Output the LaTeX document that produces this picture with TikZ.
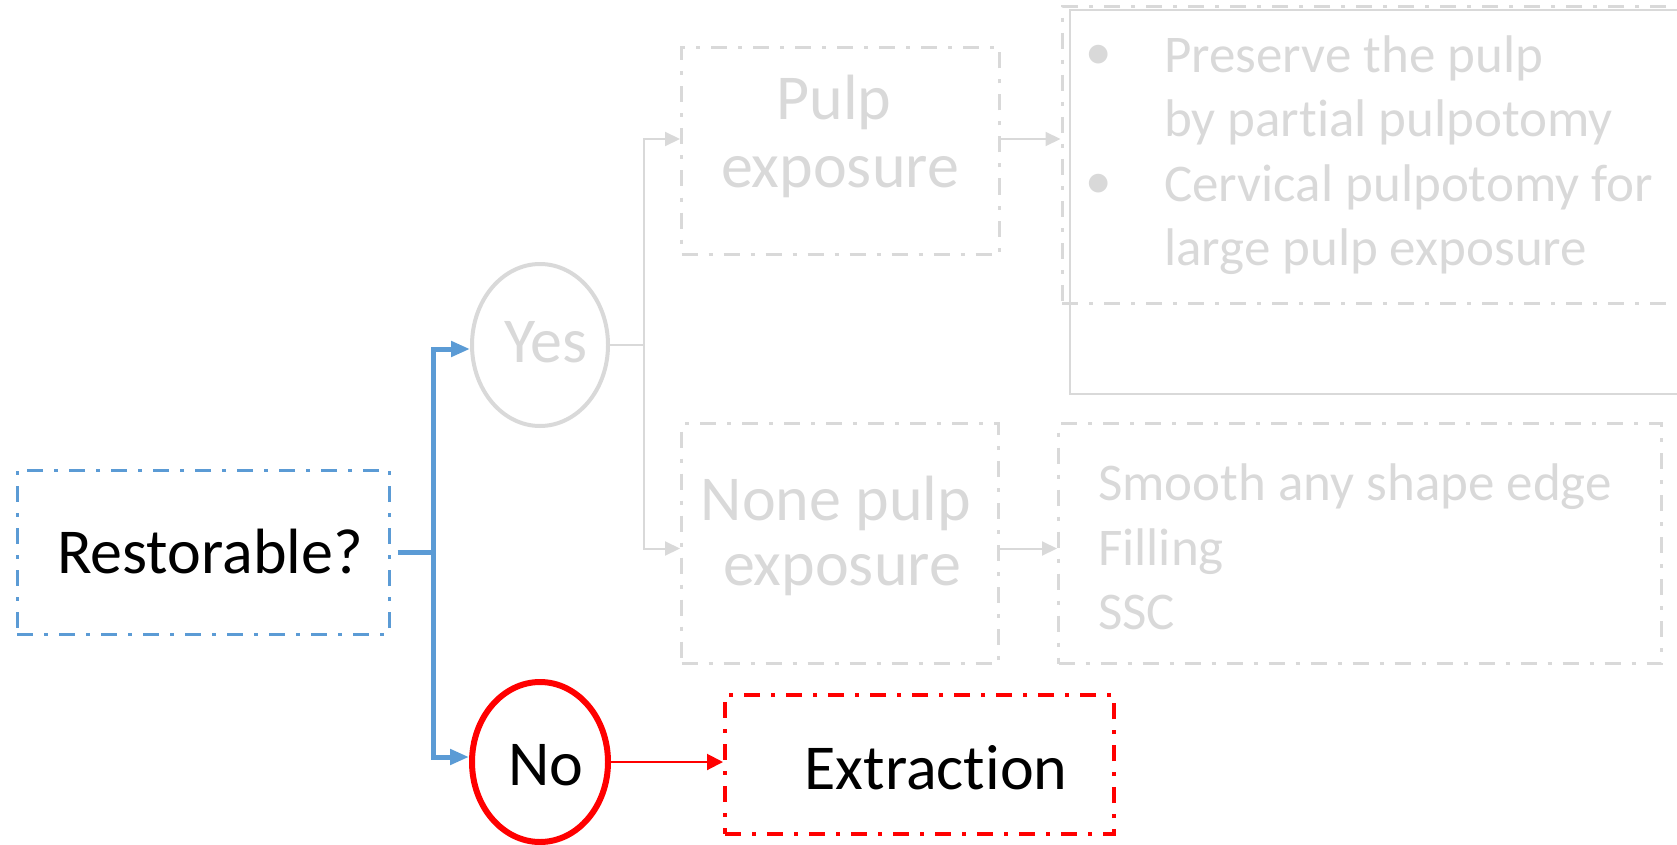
\documentclass[tikz,border=0pt]{standalone}
\usepackage{fontspec}
\setmainfont{Carlito}[Ligatures={NoCommon,NoRare}]
\usetikzlibrary{arrows.meta,shapes.geometric}
\definecolor{flowblue}{HTML}{5B9BD5}
\definecolor{fadegrey}{HTML}{D9D9D9}
\definecolor{alertred}{HTML}{FF0000}
\tikzset{
  dashdot/.style={dash pattern=on 16pt off 11pt on 4pt off 11pt},
  box/.style={draw, dashdot, line width=3pt, rectangle, inner sep=0pt},
  oval/.style={draw, ellipse, inner sep=0pt, minimum width=136pt},
  big/.style={inner sep=0pt, font=\fontsize{64}{76}\selectfont},
  mid/.style={inner sep=0pt, font=\fontsize{53}{64}\selectfont, text=fadegrey},
  greyarrow/.style={draw=fadegrey, line width=2pt, -{Triangle[length=15pt,width=14pt]}},
  bluearrow/.style={draw=flowblue, line width=5pt, -{Triangle[length=19pt,width=15pt]}},
  redarrow/.style={draw=alertred, line width=2pt, -{Triangle[length=16pt,width=16pt]}},
}
\begin{document}
\begin{tikzpicture}[x=1pt, y=-1pt]
\clip (0,0) rectangle (1677,845);
\useasboundingbox (0,0) rectangle (1677,845);

% question box and its answers
\node[box, draw=flowblue, minimum width=372pt, minimum height=164pt] (restorable) at (203,552) {};
\node[big, anchor=base] (restorabletxt) at (210,573) {Restorable?};

\node[oval, draw=fadegrey, line width=4pt, minimum height=162pt] (yes) at (540,345) {};
\node[big, anchor=base, text=fadegrey] (yestxt) at (546,362) {Yes};

\node[oval, draw=alertred, line width=6pt, minimum height=160pt] (no) at (540,762) {};
\node[big, anchor=base] (notxt) at (546,785) {No};

% exposure cases
\node[box, draw=fadegrey, minimum width=318pt, minimum height=207pt] (pulp) at (840.5,151) {};
\node[big, anchor=base, text=fadegrey] (pulpA) at (834,120) {Pulp};
\node[big, anchor=base, text=fadegrey] (pulpB) at (840,188) {exposure};

\node[box, draw=fadegrey, minimum width=317pt, minimum height=240pt] (none) at (840,543.5) {};
\node[big, anchor=base, text=fadegrey] (noneA) at (836,520) {None pulp};
\node[big, anchor=base, text=fadegrey] (noneB) at (842,585) {exposure};

% treatments
\node[rectangle, draw=fadegrey, line width=2pt, inner sep=0pt, minimum width=650pt, minimum height=384pt] (planframe) at (1395,202) {};
\node[box, draw=fadegrey, minimum width=658pt, minimum height=296pt] (plan) at (1391,155) {};
\node[mid, anchor=base] (bulA) at (1099,70) {•};
\node[mid, anchor=base west] (planA) at (1164,73) {Preserve the pulp};
\node[mid, anchor=base west] (planB) at (1164,137) {by partial pulpotomy};
\node[mid, anchor=base] (bulB) at (1099,198) {•};
\node[mid, anchor=base west] (planC) at (1164,201) {Cervical pulpotomy for};
\node[mid, anchor=base west] (planD) at (1164,265) {large pulp exposure};

\node[box, draw=fadegrey, minimum width=603pt, minimum height=240pt] (smooth) at (1360,543.5) {};
\node[mid, anchor=base west] (smoothA) at (1098,500) {Smooth any shape edge};
\node[mid, anchor=base west] (smoothB) at (1098,565) {Filling};
\node[mid, anchor=base west] (smoothC) at (1098,629) {SSC};

\node[box, draw=alertred, line width=4pt, minimum width=389pt, minimum height=139pt] (extraction) at (919.5,764.5) {};
\node[big, anchor=base] (extractiontxt) at (936,789) {Extraction};

% connectors
\coordinate (fork) at (433,552);
\draw[flowblue, line width=5pt, shorten <=7pt] (restorable.east) -- (fork);
\draw[bluearrow] (fork) |- ([yshift=-4pt]yes.west);
\draw[bluearrow] (fork) |- ([yshift=5pt]no.west);

\coordinate (split) at (644,345);
\draw[fadegrey, line width=2pt] (yes.east) -- (split);
\draw[greyarrow] (split) |- ([yshift=12pt]pulp.west);
\draw[greyarrow] (split) |- ([yshift=-5pt]none.west);
\draw[greyarrow] ([yshift=12pt]pulp.east) -- ([yshift=12pt]pulp.east -| plan.west);
\draw[greyarrow] ([yshift=-5pt]none.east) -- ([yshift=-5pt]none.east -| smooth.west);

\draw[redarrow] (no.east) -- (no.east -| extraction.west);
\end{tikzpicture}
\end{document}
